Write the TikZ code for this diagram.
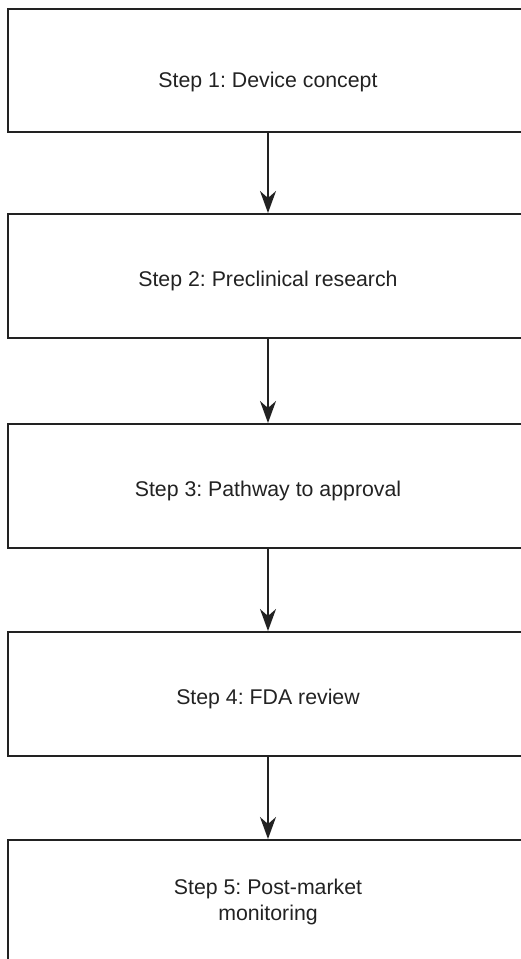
\documentclass[tikz,border=0pt]{standalone}
\usepackage{fontspec}
\setmainfont{Liberation Sans}
\usetikzlibrary{arrows.meta}
\definecolor{ink}{HTML}{222222}
\frenchspacing
\begin{document}
\begin{tikzpicture}[x=1pt,y=-1pt,
  stepbox/.style={draw=ink, line width=2pt, minimum width=520pt, inner sep=0pt,
    text=ink, font=\fontsize{21.3}{25.5}\selectfont\frenchspacing, align=center},
  oneline/.style={text height=21pt, text depth=0pt},
  flow/.style={draw=ink, line width=1.6pt, -{Stealth[length=22pt,width=16pt,inset=7pt]}}]
\useasboundingbox (0,0) rectangle (521,959);
\clip (0,0) rectangle (521,959);
\node[stepbox, oneline, minimum height=123pt, text height=34pt] (s1) at (268,70.5) {Step 1: Device concept};
\node[stepbox, oneline, minimum height=124pt] (s2) at (268,276) {Step 2: Preclinical research};
\node[stepbox, oneline, minimum height=124pt] (s3) at (268,486) {Step 3: Pathway to approval};
\node[stepbox, oneline, minimum height=124pt] (s4) at (268,694) {Step 4: FDA review};
\node[stepbox, minimum height=124pt] (s5) at (268,902) {Step 5: Post-market\\monitoring};
\draw[flow] (s1) -- (s2);
\draw[flow] (s2) -- (s3);
\draw[flow] (s3) -- (s4);
\draw[flow] (s4) -- (s5);
\end{tikzpicture}
\end{document}
